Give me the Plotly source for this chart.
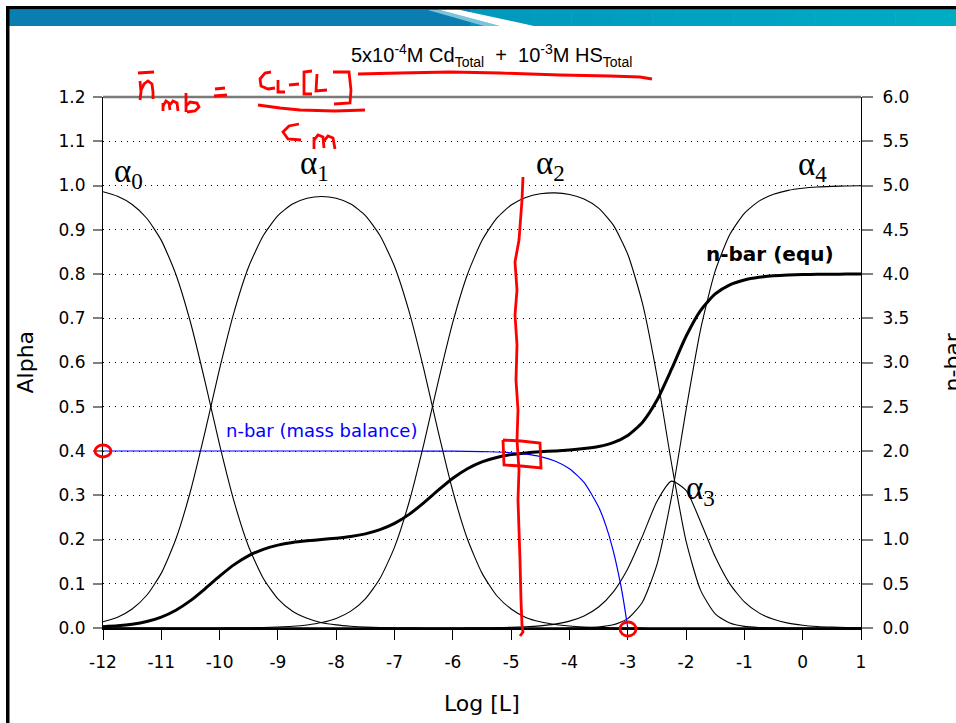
import plotly.graph_objects as go

# ---------------------------------------------------------------------------
# Cd(II) / HS- speciation: fractions alpha_0..alpha_4 and mean ligand number
# ---------------------------------------------------------------------------
log_L = [-12, -11.75, -11.5, -11.25, -11, -10.75, -10.5, -10.25, -10, -9.75,
         -9.5, -9.25, -9, -8.75, -8.5, -8.25, -8, -7.75, -7.5, -7.25,
         -7, -6.75, -6.5, -6.25, -6, -5.75, -5.5, -5.25, -5, -4.75,
         -4.5, -4.25, -4, -3.75, -3.5, -3.25, -3, -2.75, -2.5, -2.25,
         -2, -1.75, -1.5, -1.25, -1, -0.75, -0.5, -0.25, 0, 0.25,
         0.5, 0.75, 1]

alpha0 = [0.986, 0.9755, 0.957, 0.926, 0.876, 0.799, 0.691, 0.557, 0.414, 0.285,
          0.183, 0.112, 0.066, 0.038, 0.022, 0.012, 0.007, 0.004, 0.002, 0.001,
          0.0006, 0.0003, 0.0001, 0, 0, 0, 0, 0, 0, 0,
          0, 0, 0, 0, 0, 0, 0, 0, 0, 0,
          0, 0, 0, 0, 0, 0, 0, 0, 0, 0,
          0, 0, 0]

alpha1 = [0.014, 0.0245, 0.043, 0.074, 0.124, 0.201, 0.309, 0.443, 0.586, 0.715,
          0.817, 0.887, 0.932, 0.958, 0.971, 0.975, 0.971, 0.958, 0.932, 0.887,
          0.817, 0.715, 0.586, 0.443, 0.309, 0.201, 0.124, 0.0735, 0.043, 0.024,
          0.014, 0.008, 0.0044, 0.0024, 0.0013, 0.0007, 0.0004, 0.0002, 0.0001, 0,
          0, 0, 0, 0, 0, 0, 0, 0, 0, 0,
          0, 0, 0]

alpha2 = [0, 0, 0, 0, 0, 0, 0, 0, 0.0001, 0.0003,
          0.0006, 0.0011, 0.0021, 0.0038, 0.0069, 0.0123, 0.0217, 0.0381, 0.066, 0.1117,
          0.1828, 0.2847, 0.4144, 0.5573, 0.6911, 0.799, 0.8758, 0.9257, 0.9558, 0.9728,
          0.9812, 0.9834, 0.9798, 0.9695, 0.9488, 0.9109, 0.8445, 0.7345, 0.5706, 0.3723,
          0.1962, 0.085, 0.0321, 0.0112, 0.0037, 0.0012, 0.0004, 0.0001, 0, 0,
          0, 0, 0]

alpha3 = [0, 0, 0, 0, 0, 0, 0, 0, 0, 0,
          0, 0, 0, 0, 0, 0, 0, 0, 0, 0,
          0, 0, 0, 0, 0.0001, 0.0002, 0.0004, 0.0008, 0.0015, 0.0027,
          0.0049, 0.0088, 0.0155, 0.0273, 0.0475, 0.0812, 0.1339, 0.207, 0.286, 0.3319,
          0.311, 0.2396, 0.161, 0.0998, 0.0591, 0.0342, 0.0196, 0.0111, 0.0063, 0.0035,
          0.002, 0.0011, 0.0006]

alpha4 = [0, 0, 0, 0, 0, 0, 0, 0, 0, 0,
          0, 0, 0, 0, 0, 0, 0, 0, 0, 0,
          0, 0, 0, 0, 0, 0, 0, 0, 0, 0,
          0, 0.0001, 0.0002, 0.0008, 0.0024, 0.0072, 0.0212, 0.0583, 0.1433, 0.2958,
          0.4928, 0.6754, 0.8069, 0.8891, 0.9371, 0.9646, 0.9801, 0.9889, 0.9937, 0.9965,
          0.998, 0.9989, 0.9994]

nbar_equ = [0.014, 0.0245, 0.043, 0.074, 0.124, 0.201, 0.309, 0.443, 0.586, 0.716,
            0.818, 0.889, 0.936, 0.966, 0.985, 1.0, 1.015, 1.034, 1.064, 1.111,
            1.182, 1.284, 1.414, 1.557, 1.692, 1.800, 1.877, 1.927, 1.959, 1.978,
            1.991, 2.001, 2.011, 2.027, 2.051, 2.095, 2.176, 2.323, 2.573, 2.924,
            3.297, 3.590, 3.775, 3.878, 3.933, 3.963, 3.980, 3.989, 3.994, 3.997,
            3.998, 3.999, 3.999]

# n-bar from the mass balance, (C_L - [L]) / C_M
log_L_mb = [-12, -11, -10, -9, -8, -7, -6.5, -6, -5.5, -5.25, -5, -4.75, -4.5,
            -4.25, -4, -3.75, -3.5, -3.375, -3.25, -3.125, -3.0625, -3]
nbar_mb = [2.0, 2.0, 2.0, 2.0, 2.0, 1.9998, 1.9994, 1.998, 1.9937, 1.9888, 1.98,
           1.9644, 1.9368, 1.8875, 1.8, 1.6444, 1.3675, 1.1566, 0.8754, 0.5004,
           0.268, 0.0]

x_ticks = list(range(-12, 2))

# ---------------------------------------------------------------------------
W, H = 956, 723
ML, MR, MT, MB = 103, 95, 97, 95
PW, PH = W - ML - MR, H - MT - MB
SANS = "DejaVu Sans"
SERIF = "Liberation Serif"
RED = "#ff0000"


def pp(x, y):
    """page pixel -> paper coordinates"""
    return (x - ML) / PW, (H - MB - y) / PH


def path_of(points, close=False):
    parts = []
    for i, (x, y) in enumerate(points):
        px_, py_ = pp(x, y)
        parts.append(("M" if i == 0 else "L") + f"{px_:.5f},{py_:.5f}")
    return " ".join(parts) + (" Z" if close else "")


fig = go.Figure()

for ys in (alpha0, alpha1, alpha2, alpha3, alpha4):
    fig.add_trace(go.Scatter(x=log_L, y=ys, mode="lines",
                             line=dict(color="black", width=1.1, shape="spline", smoothing=0.6),
                             hoverinfo="skip", showlegend=False))

fig.add_trace(go.Scatter(x=log_L, y=nbar_equ, yaxis="y2", mode="lines",
                         line=dict(color="black", width=3, shape="spline", smoothing=0.6),
                         hoverinfo="skip", showlegend=False))
fig.add_trace(go.Scatter(x=log_L_mb, y=nbar_mb, yaxis="y2", mode="lines",
                         line=dict(color="#0000ff", width=1.2, shape="spline", smoothing=0.6),
                         hoverinfo="skip", showlegend=False))

tickfont = dict(family=SANS, size=17, color="black")

fig.update_layout(
    width=W, height=H,
    margin=dict(l=ML, r=MR, t=MT, b=MB, autoexpand=False),
    paper_bgcolor="white", plot_bgcolor="white",
    font=dict(family=SANS, color="black"),
    showlegend=False,
    xaxis=dict(range=[-12, 1], tickvals=x_ticks, ticktext=[str(v) for v in x_ticks],
               ticks="outside", ticklen=10, tickcolor="black", tickwidth=1,
               showline=True, linecolor="black", linewidth=1.5,
               showgrid=False, zeroline=False, tickfont=tickfont,
               ticklabelstandoff=8),
    yaxis=dict(range=[0, 1.2], tick0=0, dtick=0.1, tickformat=".1f",
               ticks="outside", ticklen=9, tickcolor="#808080", tickwidth=1.5,
               showline=True, linecolor="black", linewidth=1,
               showgrid=True, gridcolor="black", gridwidth=1, griddash="1px,5px",
               zeroline=False, tickfont=tickfont, ticklabelstandoff=4),
    yaxis2=dict(range=[0, 6], tick0=0, dtick=0.5, tickformat=".1f",
                overlaying="y", side="right",
                ticks="outside", ticklen=11, tickcolor="#808080", tickwidth=1.5,
                showline=True, linecolor="black", linewidth=1,
                showgrid=False, zeroline=False, tickfont=tickfont,
                ticklabelstandoff=6),
)

# axis titles
ann = [
    dict(text="Alpha", xref="paper", yref="paper", x=pp(25, 0)[0], y=0.5,
         textangle=-90, showarrow=False, font=dict(family=SANS, size=22),
         xanchor="center", yanchor="middle"),
    dict(text="n-bar", xref="paper", yref="paper", x=pp(952, 0)[0], y=0.5,
         textangle=-90, showarrow=False, font=dict(family=SANS, size=22),
         xanchor="center", yanchor="middle"),
    dict(text="Log [L]", xref="paper", yref="paper", x=0.5, y=pp(0, 703)[1],
         showarrow=False, font=dict(family=SANS, size=22),
         xanchor="center", yanchor="middle"),
    dict(text="5x10<sup>-4</sup>M Cd<sub>Total</sub>  +  10<sup>-3</sup>M HS<sub>Total</sub>",
         xref="paper", yref="paper", x=pp(491, 0)[0], y=pp(0, 55)[1],
         showarrow=False, font=dict(family="Liberation Sans", size=20),
         xanchor="center", yanchor="middle"),
    dict(text="n-bar (equ)", x=-0.56, y=0.845, showarrow=False,
         font=dict(family=SANS, size=20, weight="bold"), xanchor="center", yanchor="middle"),
    dict(text="n-bar (mass balance)", x=-8.26, y=0.447, showarrow=False,
         font=dict(family=SANS, size=18, color="#0000ff"), xanchor="center", yanchor="middle"),
]

species_labels = [("0", -11.85, 1.028), ("1", -8.655, 1.046), ("2", -4.607, 1.046),
                  ("3", -2.034, 0.31), ("4", -0.113, 1.044)]
for sub, lx, ly in species_labels:
    ann.append(dict(text=f"\u03b1<sub>{sub}</sub>", x=lx, y=ly, showarrow=False,
                    font=dict(family=SERIF, size=33, color="black"),
                    xanchor="left", yanchor="middle"))
fig.update_layout(annotations=ann)

shapes = []

# plot top border at 1.2
shapes.append(dict(type="line", xref="paper", yref="paper", x0=0, x1=1, y0=1, y1=1,
                   line=dict(color="#7a7a7a", width=2.5)))

# slide frame and header band
def rect(x0, y0, x1, y1, color):
    a = pp(x0, y0)
    b = pp(x1, y1)
    return dict(type="rect", xref="paper", yref="paper", x0=a[0], y0=b[1], x1=b[0], y1=a[1],
                fillcolor=color, line=dict(width=0), layer="above")

shapes.append(rect(9, 9.5, 470, 26, "#0a7eb0"))
n_strips = 24
c0 = (0, 152, 190)
c1 = (0, 172, 196)
x_start, x_end = 470, 956
for i in range(n_strips):
    t = i / (n_strips - 1)
    col = "rgb({},{},{})".format(*[round(c0[k] + (c1[k] - c0[k]) * t) for k in range(3)])
    xa = x_start + (x_end - x_start) * i / n_strips
    xb = x_start + (x_end - x_start) * (i + 1) / n_strips + 0.6
    shapes.append(rect(xa, 9.5, xb, 26, col))
shapes.append(dict(type="path", xref="paper", yref="paper",
                   path=path_of([(426, 9.5), (438, 9.5), (500, 26), (484, 26)], True),
                   fillcolor="#7cc3dc", line=dict(width=0), layer="above"))
shapes.append(dict(type="path", xref="paper", yref="paper",
                   path=path_of([(438, 9.5), (458, 9.5), (534, 26), (500, 26)], True),
                   fillcolor="white", line=dict(width=0), layer="above"))
shapes.append(rect(6, 6, 956, 9.5, "black"))
shapes.append(rect(6, 6, 9.5, 723, "black"))

# red ink marks
ink = [
    [(358, 74), (400, 73), (450, 72), (500, 73), (560, 75), (610, 76), (640, 77), (652, 79)],
    [(138, 73), (154, 72)],
    [(140, 81), (141, 92), (140, 100)],
    [(141, 90), (144, 84), (148, 81), (152, 84), (153, 92), (153, 99)],
    [(163, 103), (163, 111)],
    [(163, 106), (166, 101), (169, 103), (170, 110)],
    [(170, 105), (173, 101), (177, 103), (178, 111)],
    [(186, 93), (186, 112)],
    [(186, 106), (190, 102), (197, 103), (199, 107), (195, 111), (187, 112)],
    [(215, 89), (225, 88)],
    [(214, 96), (227, 95)],
    [(271, 72), (265, 73), (260, 79), (261, 86), (268, 89), (275, 88)],
    [(278, 80), (278, 92), (285, 92)],
    [(289, 85), (299, 84)],
    [(312, 71), (304, 72), (304, 94), (312, 94)],
    [(317, 74), (316, 91), (327, 90)],
    [(333, 72), (349, 72), (351, 90), (350, 103), (334, 104)],
    [(258, 105), (280, 108), (300, 110), (335, 111), (365, 110)],
    [(299, 124), (289, 126), (283, 132), (288, 139), (301, 140)],
    [(314, 137), (314, 149)],
    [(314, 140), (318, 135), (323, 137), (324, 148)],
    [(324, 141), (328, 136), (333, 138), (335, 149)],
    [(523, 177), (522, 200), (519, 240), (515, 262), (517, 290), (515, 315), (517, 345),
     (516, 380), (518, 410), (517, 440), (519, 470), (518, 500), (519, 530), (520, 560),
     (521, 600), (522, 625), (523, 632), (520, 636)],
    [(503, 440), (521, 441), (540, 443), (541, 468), (521, 466), (504, 465), (503, 440)],
]
for stroke in ink:
    shapes.append(dict(type="path", xref="paper", yref="paper", path=path_of(stroke),
                       line=dict(color=RED, width=2.8), layer="above"))

for cx, cy, rx, ry in [(103, 451, 8, 6), (628, 629, 8, 7)]:
    a = pp(cx - rx, cy - ry)
    b = pp(cx + rx, cy + ry)
    shapes.append(dict(type="circle", xref="paper", yref="paper",
                       x0=a[0], x1=b[0], y0=b[1], y1=a[1],
                       line=dict(color=RED, width=2.8), layer="above"))

fig.update_layout(shapes=shapes)

fig.write_html("out.html", config={"displayModeBar": False})
